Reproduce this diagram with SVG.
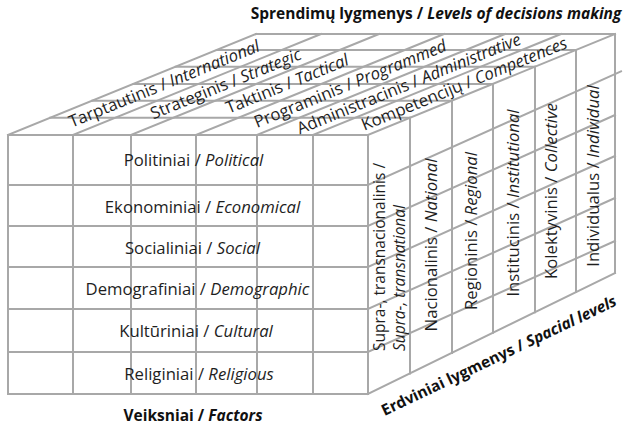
<svg xmlns="http://www.w3.org/2000/svg" width="628" height="429" viewBox="0 0 628 429">
<style>
.g{fill:none;stroke:#a8a8a8;stroke-width:2;stroke-linecap:square}
.t{font-family:"Open Sans","Liberation Sans",sans-serif;font-size:16.7px;fill:#1e1e1e}
.s{font-size:15.5px}
.b{font-family:"Open Sans","Liberation Sans",sans-serif;font-size:15.5px;font-weight:bold;fill:#111}
.i{font-style:italic}
</style>
<rect width="628" height="429" fill="#fff"/>
<g id="connectors">
<g id="front-face">
<rect class="g" x="8" y="135" width="360" height="259"/>
<path class="g" d="M8 185H368M8 226H368M8 267H368M8 309H368M8 352H368M73 135V394M131 135V394M196 135V394M257 135V394M313 135V394"/>
</g>
<g id="top-face">
<path class="g" d="M8 135L256 34M73 135L321 34M131 135L379 34M196 135L444 34M257 135L505 34M313 135L561 34M368 135L615 34"/>
<path class="g" d="M50.2 117.8H410M92.2 100.7H452M133.5 83.9H493M175.7 66.7H535M216.9 49.9H576M256 34H615"/>
</g>
<g id="right-face">
<path class="g" d="M410 117.8V373.4M452 100.7V352.9M493 83.9V332.8M535 66.7V312.2M576 49.9V292.1M615 34V273"/>
<path class="g" d="M368 185L621 71.3M368 226L615 115M368 267L615 156M368 309L615 198M368 352L615 241M368 394L615 273"/>
</g>
</g>
<g id="title"><text class="b" x="436" y="19" text-anchor="middle">Sprendimų lygmenys / <tspan class="i">Levels of decisions making</tspan></text></g>
<g id="factors">
<text class="t" x="193.5" y="166" text-anchor="middle">Politiniai / <tspan class="i">Political</tspan></text>
<text class="t" x="202.5" y="213" text-anchor="middle">Ekonominiai / <tspan class="i">Economical</tspan></text>
<text class="t" x="192.5" y="254" text-anchor="middle">Socialiniai / <tspan class="i">Social</tspan></text>
<text class="t" x="197.5" y="295" text-anchor="middle">Demografiniai / <tspan class="i">Demographic</tspan></text>
<text class="t" x="196" y="337" text-anchor="middle">Kultūriniai / <tspan class="i">Cultural</tspan></text>
<text class="t" x="199" y="380" text-anchor="middle">Religiniai / <tspan class="i">Religious</tspan></text>
<text class="b" x="193" y="421" text-anchor="middle">Veiksniai / <tspan class="i">Factors</tspan></text>
</g>
<g id="decision-levels">
<text class="t" transform="translate(164.5 84.5) rotate(-22.2)" y="5" text-anchor="middle">Tarptautinis / <tspan class="i">International</tspan></text>
<text class="t" transform="translate(226 84.5) rotate(-22.2)" y="5" text-anchor="middle">Strateginis / <tspan class="i">Strategic</tspan></text>
<text class="t" transform="translate(287.5 84.5) rotate(-22.2)" y="5" text-anchor="middle">Taktinis / <tspan class="i">Tactical</tspan></text>
<text class="t" transform="translate(350.5 84.5) rotate(-22.2)" y="5" text-anchor="middle">Programinis / <tspan class="i">Programmed</tspan></text>
<text class="t" transform="translate(409 84.5) rotate(-22.2)" y="5" text-anchor="middle">Administracinis / <tspan class="i">Administrative</tspan></text>
<text class="t" transform="translate(464.5 84.5) rotate(-22.2)" y="5" text-anchor="middle">Kompetencijų / <tspan class="i">Competences</tspan></text>
</g>
<g id="spatial-levels">
<text class="t s" transform="translate(385 351) rotate(-90)">Supra-, transnacionalinis /</text>
<text class="t s i" transform="translate(405 351) rotate(-90)">Supra-, transnational</text>
<text class="t" transform="translate(437 245) rotate(-90)" text-anchor="middle">Nacionalinis / <tspan class="i">National</tspan></text>
<text class="t" transform="translate(477 231) rotate(-90)" text-anchor="middle">Regioninis / <tspan class="i">Regional</tspan></text>
<text class="t" transform="translate(519 203) rotate(-90)" text-anchor="middle">Institucinis / <tspan class="i">Institutional</tspan></text>
<text class="t" transform="translate(557 191) rotate(-90)" text-anchor="middle">Kolektyvinis / <tspan class="i">Collective</tspan></text>
<text class="t" transform="translate(599 176) rotate(-90)" text-anchor="middle">Individualus / <tspan class="i">Individual</tspan></text>
<text class="b" transform="translate(499 356) rotate(-25.5)" y="5" text-anchor="middle">Erdviniai lygmenys / <tspan class="i">Spacial levels</tspan></text>
</g>
</svg>
